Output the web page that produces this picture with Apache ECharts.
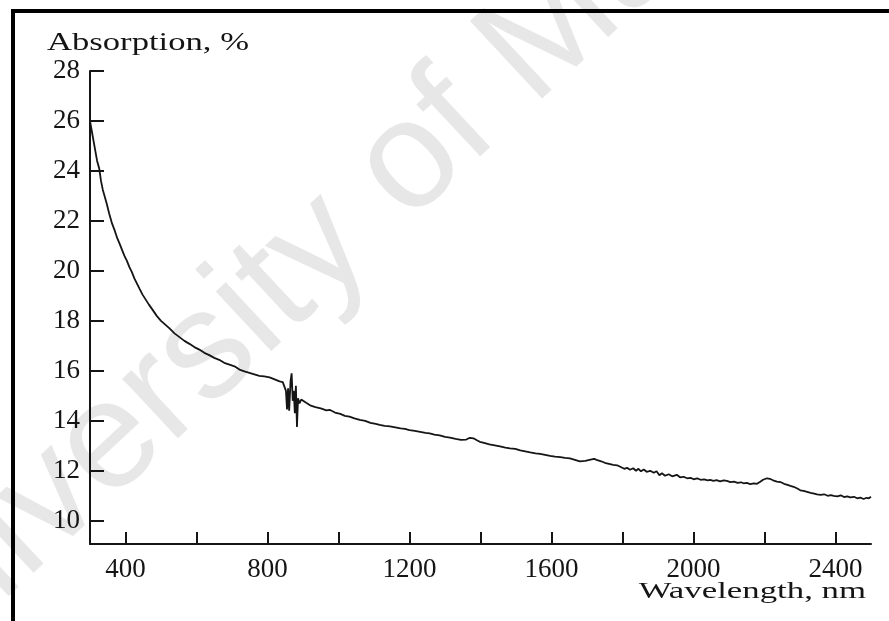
<!DOCTYPE html>
<html>
<head>
<meta charset="utf-8">
<title>Absorption spectrum</title>
<script src="https://cdn.jsdelivr.net/npm/echarts@6/dist/echarts.min.js"></script>
<style>
  html, body { margin: 0; padding: 0; background: #ffffff; }
  #chart { width: 889px; height: 621px; }
</style>
</head>
<body>
<div id="chart"></div>
<script>
// Absorption spectrum, wavelength in nm vs absorption in %
const wavelengths = [
  300, 305, 310, 315, 320, 326, 331, 336, 341, 347, 354, 362, 370, 377, 383, 390, 397, 404, 411, 418,
  425, 432, 439, 448, 457, 466, 476, 488, 500, 512, 524, 538, 552, 566, 580, 594, 608, 622, 636, 650,
  664, 678, 693, 707, 721, 735, 749, 763, 777, 791, 806, 820, 834, 843, 848, 852, 855, 858, 861, 865,
  868, 871, 874, 877, 880, 883, 886, 890, 895, 900, 909, 920, 935, 950, 966, 975, 990, 1005, 1018, 1031,
  1045, 1060, 1075, 1090, 1105, 1116, 1130, 1145, 1160, 1175, 1187, 1200, 1215, 1230, 1245, 1257, 1270, 1285, 1300, 1314,
  1330, 1345, 1360, 1370, 1380, 1390, 1398, 1410, 1425, 1440, 1455, 1470, 1483, 1498, 1512, 1526, 1540, 1555, 1568, 1582,
  1596, 1610, 1625, 1638, 1652, 1666, 1680, 1695, 1710, 1720, 1727, 1740, 1750, 1762, 1774, 1785, 1795, 1805, 1813, 1821,
  1830, 1838, 1845, 1852, 1860, 1868, 1878, 1888, 1896, 1904, 1911, 1920, 1930, 1940, 1953, 1962, 1972, 1982, 1992, 2000,
  2010, 2020, 2030, 2040, 2047, 2056, 2065, 2075, 2085, 2094, 2104, 2114, 2124, 2134, 2141, 2150, 2160, 2170, 2179, 2188,
  2196, 2207, 2215, 2224, 2235, 2245, 2255, 2265, 2273, 2282, 2291, 2301, 2310, 2320, 2330, 2340, 2348, 2358, 2368, 2378,
  2387, 2395, 2405, 2415, 2424, 2433, 2442, 2452, 2461, 2470, 2479, 2488, 2494, 2500
];

const absorption = [
  26.0, 25.6, 25.2, 24.8, 24.4, 24.1, 23.6, 23.25, 23.0, 22.7, 22.3, 21.9, 21.6, 21.3, 21.1, 20.85, 20.6, 20.4, 20.15, 19.95,
  19.7, 19.5, 19.3, 19.05, 18.85, 18.65, 18.45, 18.2, 18.0, 17.85, 17.7, 17.5, 17.35, 17.2, 17.08, 16.95, 16.85, 16.72, 16.63, 16.52,
  16.44, 16.32, 16.25, 16.18, 16.05, 15.98, 15.92, 15.86, 15.8, 15.78, 15.74, 15.66, 15.58, 15.55, 15.5, 15.2, 14.45, 15.3, 14.4, 15.6,
  15.9, 14.8, 15.2, 14.3, 15.4, 13.75, 14.9, 14.7, 14.85, 14.78, 14.72, 14.62, 14.55, 14.5, 14.42, 14.44, 14.33, 14.28, 14.2, 14.17,
  14.1, 14.04, 14.0, 13.92, 13.88, 13.84, 13.8, 13.78, 13.74, 13.7, 13.68, 13.63, 13.6, 13.56, 13.52, 13.5, 13.45, 13.42, 13.36, 13.33,
  13.28, 13.24, 13.25, 13.32, 13.3, 13.22, 13.16, 13.12, 13.06, 13.02, 12.98, 12.93, 12.9, 12.88, 12.82, 12.78, 12.74, 12.7, 12.68, 12.64,
  12.6, 12.57, 12.55, 12.52, 12.5, 12.44, 12.38, 12.4, 12.45, 12.48, 12.44, 12.38, 12.32, 12.28, 12.24, 12.22, 12.15, 12.08, 12.12, 12.04,
  12.1, 12.0, 12.08, 11.98, 12.05, 11.96, 12.0, 11.92, 11.98, 11.82, 11.9, 11.8, 11.86, 11.78, 11.84, 11.74, 11.76, 11.7, 11.72, 11.66,
  11.7, 11.64, 11.66, 11.62, 11.64, 11.6, 11.63, 11.58, 11.62, 11.6, 11.55, 11.57, 11.52, 11.54, 11.5, 11.52, 11.47, 11.5, 11.48, 11.56,
  11.64, 11.7, 11.68, 11.62, 11.57, 11.55, 11.48, 11.44, 11.4, 11.36, 11.3, 11.22, 11.2, 11.16, 11.12, 11.09, 11.06, 11.04, 11.06, 11.0,
  11.03, 11.0, 10.98, 11.02, 10.95, 10.98, 10.94, 10.96, 10.9, 10.93, 10.87, 10.92, 10.9, 10.96
];

// Axis ticks and labels
const xTicks = [400, 600, 800, 1000, 1200, 1400, 1600, 1800, 2000, 2200, 2400];
const xLabels = [400, 800, 1200, 1600, 2000, 2400];
const yTicks = [10, 12, 14, 16, 18, 20, 22, 24, 26, 28];

const xTitle = 'Wavelength, nm';
const yTitle = 'Absorption, %';
const stampText = 'University of Malaya';

const points = wavelengths.map((w, i) => [w, absorption[i]]);

const ink = '#151515';
const serif = '"Liberation Serif", "Times New Roman", serif';

const chart = echarts.init(document.getElementById('chart'), null, { renderer: 'canvas' });

chart.setOption({
  animation: false,
  backgroundColor: '#ffffff',
  grid: { left: 90, right: 18, top: 71, bottom: 77, containLabel: false },
  xAxis: {
    type: 'value',
    min: 300,
    max: 2500,
    splitLine: { show: false },
    axisLine: { show: true, lineStyle: { color: ink, width: 2 } },
    axisTick: {
      show: true, inside: true, length: 12, customValues: xTicks,
      lineStyle: { color: ink, width: 2 }
    },
    axisLabel: {
      customValues: xLabels, margin: 12,
      formatter: (v) => String(v),
      fontFamily: serif, fontSize: 27, color: ink
    }
  },
  yAxis: {
    type: 'value',
    min: 9.07,
    max: 28,
    splitLine: { show: false },
    axisLine: { show: true, lineStyle: { color: ink, width: 2 } },
    axisTick: {
      show: true, inside: true, length: 14, customValues: yTicks,
      lineStyle: { color: ink, width: 2 }
    },
    axisLabel: {
      customValues: yTicks, margin: 10,
      formatter: (v) => String(v),
      fontFamily: serif, fontSize: 27, color: ink
    }
  },
  graphic: [
    {
      // diagonal stamp behind the plot
      type: 'text', z: -10, x: -147, y: 683, rotation: 43 * Math.PI / 180,
      style: {
        text: stampText, font: '154px "Liberation Sans", Arial, sans-serif',
        fill: '#e7e7e7', textAlign: 'left', verticalAlign: 'middle'
      }
    },
    {
      type: 'rect', z: 10,
      shape: { x: 13, y: 11, width: 1000, height: 800 },
      style: { fill: 'none', stroke: '#000000', lineWidth: 4 }
    },
    {
      type: 'text', z: 10, x: 47, y: 43.5, scaleX: 1.385,
      style: {
        text: yTitle, font: '25px ' + serif, fill: ink,
        textAlign: 'left', verticalAlign: 'middle'
      }
    },
    {
      type: 'text', z: 10, x: 866, y: 592, scaleX: 1.45,
      style: {
        text: xTitle, font: '24px ' + serif, fill: ink,
        textAlign: 'right', verticalAlign: 'middle'
      }
    }
  ],
  series: [
    {
      type: 'line',
      data: points,
      showSymbol: false,
      smooth: false,
      lineStyle: { color: ink, width: 1.8 },
      z: 5
    }
  ]
});
</script>
</body>
</html>
